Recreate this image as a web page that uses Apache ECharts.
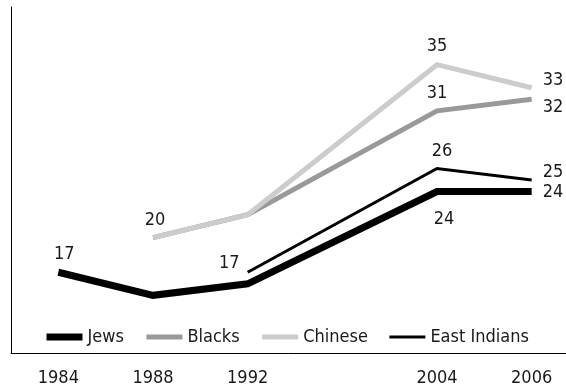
<!DOCTYPE html>
<html><head><meta charset="utf-8">
<script src="https://cdn.jsdelivr.net/npm/echarts@6/dist/echarts.min.js"></script>
<style>html,body{margin:0;padding:0;background:#fff}#c{width:566px;height:389px}</style>
</head><body><div id="c"></div>
<script>
var categories = ['1984','1988','1992','','2004','2006'];
var jews = [17,15,16,'-',24,24];
var blacks = ['-',20,22,'-',31,32];
var chinese = ['-',20,22,'-',35,33];
var eastIndians = ['-','-',17,'-',26,25];
var seriesNames = ['Jews','Blacks','Chinese','East Indians'];

var FONT = '"Liberation Sans Narrow","DejaVu Sans Condensed","DejaVu Sans",sans-serif';
var styles = [
  {color:'#000000', width:7},
  {color:'#999999', width:5},
  {color:'#cccccc', width:5},
  {color:'#000000', width:3}
];
// label placement per series: index -> [position, offset]
var labelCfg = [
  {0:['top',[6,-4]], 4:['bottom',[7,14]], 5:['right',[6,1]]},
  {4:['top',[0,-3]], 5:['right',[6,8]]},
  {1:['top',[2,-3]], 4:['top',[0,-4]], 5:['right',[6,-7]]},
  {2:['left',[-3,-9]], 4:['top',[5,-3]], 5:['right',[6,-8]]}
];
var allData = [jews, blacks, chinese, eastIndians];

function build(i){
  return allData[i].map(function(v, k){
    var cfg = labelCfg[i][k];
    var item = {value: v};
    if (cfg && v !== '-') {
      item.label = {show:true, position:cfg[0], offset:cfg[1], formatter:'{c}',
        fontFamily:FONT, fontSize:18, color:'#1a1a1a'};
    }
    return item;
  });
}

var series = seriesNames.map(function(n, i){
  return {
    name:n, type:'line', data:build(i), symbol:'circle', symbolSize:0.01, showSymbol:true,
    connectNulls:true,
    lineStyle:{color:styles[i].color, width:styles[i].width, cap:'butt', join:'miter'},
    itemStyle:{color:styles[i].color},
    label:{show:false}, animation:false, z: 2 + i
  };
});

var chart = echarts.init(document.getElementById('c'), null, {renderer:'canvas'});
chart.setOption({
  animation:false,
  grid:{left:11, top:7, width:568, bottom:36, containLabel:false, outerBoundsMode:'none'},
  xAxis:{type:'category', data:categories, boundaryGap:true,
    axisLine:{lineStyle:{color:'#000', width:1}}, axisTick:{show:false},
    axisLabel:{fontFamily:FONT, fontSize:18, color:'#1a1a1a', margin:16, interval:0}},
  yAxis:{type:'value', min:10, max:40,
    axisLine:{show:true, lineStyle:{color:'#000', width:1}}, axisTick:{show:false},
    axisLabel:{show:false}, splitLine:{show:false}},
  legend:{left:38, top:323, itemWidth:36, itemHeight:14, itemGap:20,
    textStyle:{fontFamily:FONT, fontSize:18, color:'#1a1a1a'},
    data: seriesNames.map(function(n,i){
      return {name:n, itemStyle:{opacity:0}, lineStyle:{width:styles[i].width, color:styles[i].color, cap:'butt'}};
    })},
  series: series
});
</script></body></html>
